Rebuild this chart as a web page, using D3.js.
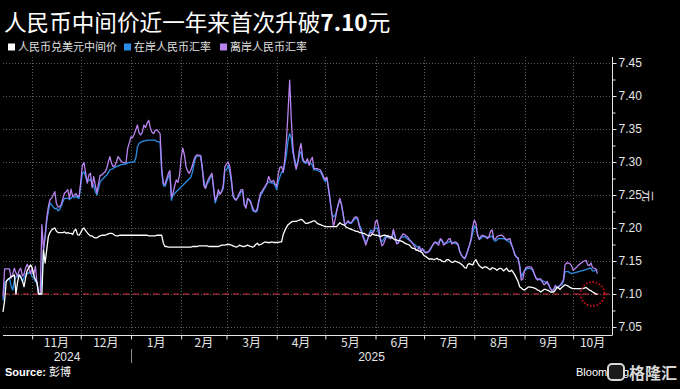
<!DOCTYPE html>
<html>
<head>
<meta charset="utf-8">
<script src="https://cdn.jsdelivr.net/npm/d3@7"></script>
<style>
  html, body { margin: 0; padding: 0; background: #000; }
  svg { display: block; }
</style>
</head>
<body>
<div id="chart"></div>
<script>
// one value per calendar day, starting on firstDay
var firstDay = '2024-10-14';

// 人民币兑美元中间价
var fixing = [
  // Oct 2024
  7.073, 7.090, 7.119, 7.122, 7.124, 7.126, 7.127, 7.129, 7.100, 7.118, 7.129, 7.125, 7.120, 7.111, 7.125, 7.136, 7.140, 7.144,
  // Nov
  7.140, 7.128, 7.122, 7.117, 7.100, 7.100, 7.100, 7.167, 7.147, 7.167, 7.187, 7.193, 7.197, 7.199, 7.200, 7.195, 7.193, 7.193, 7.193, 7.193,
  7.194, 7.192, 7.193, 7.192, 7.192, 7.190, 7.196, 7.198, 7.190, 7.189,
  // Dec
  7.193, 7.198, 7.200, 7.196, 7.193, 7.190, 7.188, 7.188, 7.186, 7.185, 7.185, 7.187, 7.188, 7.189, 7.189, 7.189, 7.190, 7.191, 7.192, 7.192,
  7.191, 7.189, 7.188, 7.188, 7.189, 7.189, 7.189, 7.189, 7.189, 7.189, 7.189,
  // Jan 2025
  7.189, 7.189, 7.189, 7.189, 7.189, 7.189, 7.189, 7.189, 7.189, 7.189, 7.189, 7.188, 7.188, 7.188, 7.188, 7.188, 7.189, 7.189, 7.189, 7.189,
  7.177, 7.172, 7.172, 7.171, 7.171, 7.171, 7.171, 7.171, 7.171, 7.171, 7.171,
  // Feb
  7.171, 7.171, 7.171, 7.171, 7.171, 7.171, 7.171, 7.172, 7.172, 7.172, 7.172, 7.173, 7.173, 7.173, 7.173, 7.173, 7.173, 7.172, 7.172, 7.172,
  7.172, 7.172, 7.172, 7.172, 7.173, 7.174, 7.174, 7.174,
  // Mar
  7.175, 7.175, 7.175, 7.174, 7.173, 7.172, 7.171, 7.172, 7.174, 7.173, 7.172, 7.172, 7.173, 7.174, 7.173, 7.172, 7.171, 7.172, 7.175, 7.177,
  7.174, 7.175, 7.176, 7.178, 7.179, 7.178, 7.178, 7.178, 7.179, 7.178, 7.178,
  // Apr
  7.178, 7.178, 7.179, 7.179, 7.190, 7.196, 7.201, 7.205, 7.207, 7.209, 7.210, 7.210, 7.210, 7.211, 7.212, 7.213, 7.212, 7.209, 7.207, 7.207,
  7.208, 7.209, 7.210, 7.211, 7.210, 7.207, 7.206, 7.205, 7.204, 7.203,
  // May
  7.202, 7.202, 7.202, 7.202, 7.202, 7.202, 7.202, 7.202, 7.205, 7.208, 7.206, 7.205, 7.204, 7.201, 7.200, 7.199, 7.198, 7.197, 7.196, 7.195,
  7.195, 7.193, 7.193, 7.192, 7.192, 7.190, 7.189, 7.188, 7.188, 7.191, 7.190,
  // Jun
  7.189, 7.189, 7.188, 7.187, 7.188, 7.189, 7.189, 7.188, 7.187, 7.187, 7.186, 7.184, 7.182, 7.182, 7.181, 7.181, 7.180, 7.179, 7.177, 7.176,
  7.175, 7.174, 7.171, 7.169, 7.169, 7.167, 7.166, 7.165, 7.164, 7.162,
  // Jul
  7.158, 7.157, 7.155, 7.153, 7.153, 7.153, 7.152, 7.153, 7.154, 7.152, 7.152, 7.150, 7.149, 7.149, 7.152, 7.152, 7.150, 7.148, 7.148, 7.150,
  7.149, 7.148, 7.147, 7.145, 7.143, 7.140, 7.139, 7.145, 7.146, 7.145, 7.144,
  // Aug
  7.149, 7.152, 7.147, 7.143, 7.141, 7.139, 7.141, 7.141, 7.140, 7.138, 7.137, 7.140, 7.139, 7.138, 7.136, 7.138, 7.139, 7.138, 7.135, 7.137,
  7.139, 7.135, 7.134, 7.136, 7.133, 7.129, 7.124, 7.119, 7.111, 7.109, 7.107,
  // Sep
  7.106, 7.108, 7.110, 7.111, 7.110, 7.110, 7.109, 7.108, 7.106, 7.105, 7.103, 7.105, 7.107, 7.107, 7.106, 7.105, 7.103, 7.103, 7.103, 7.106,
  7.110, 7.109, 7.107, 7.110, 7.112, 7.114, 7.113, 7.112, 7.110, 7.109,
  // Oct
  7.108, 7.108, 7.108, 7.108, 7.108, 7.108, 7.108, 7.109, 7.110, 7.108, 7.106, 7.105, 7.103, 7.102, 7.100, 7.0995
];

// 在岸人民币汇率 (null = market closed, line runs straight across)
var onshore = [
  // Oct 2024
  7.090, 7.117, 7.119, 7.122, 7.124, 7.112, 7.106, 7.120, 7.126, 7.126, 7.129, 7.127, 7.119, 7.125, 7.130, 7.131, 7.132, 7.133,
  // Nov
  7.126, 7.124, 7.119, 7.117, 7.100, 7.100, 7.120, 7.167, 7.187, 7.210, 7.225, 7.238, 7.235, 7.232, 7.229, 7.230, 7.226, 7.228, 7.233, 7.240,
  7.245, 7.245, 7.245, 7.243, 7.245, 7.248, 7.246, 7.248, 7.246, 7.245,
  // Dec
  7.265, 7.283, 7.285, 7.278, 7.270, 7.272, 7.274, 7.267, 7.264, 7.255, 7.250, 7.260, 7.270, 7.273, 7.275, 7.278, 7.280, 7.284, 7.288, 7.289,
  7.290, 7.292, 7.293, 7.294, 7.295, 7.296, 7.296, 7.297, 7.297, 7.299, 7.299,
  // Jan 2025
  7.300, 7.300, 7.300, 7.306, 7.323, 7.328, 7.330, 7.331, 7.332, 7.332, 7.333, 7.333, 7.333, 7.333, 7.333, 7.333, 7.331, 7.331, 7.329, 7.285,
  7.264, 7.263, 7.270, 7.277, 7.282, 7.242, 7.250, null, null, null, null,
  // Feb
  null, null, null, null, null, null, 7.277, 7.285, 7.298, 7.307, 7.309, 7.309, 7.309, 7.290, 7.273, 7.260, 7.267, 7.270, 7.277, 7.280,
  7.262, 7.238, 7.245, 7.252, 7.253, 7.255, 7.260, 7.288,
  // Mar
  7.288, 7.295, 7.285, 7.270, 7.248, 7.244, 7.244, 7.246, 7.250, 7.255, 7.255, 7.236, 7.232, 7.242, 7.243, 7.240, 7.227, 7.225, 7.224, 7.226,
  7.240, 7.250, 7.253, 7.258, 7.262, 7.267, 7.270, 7.269, 7.268, 7.268, 7.264,
  // Apr
  7.258, 7.270, 7.278, 7.285, 7.284, 7.297, 7.311, 7.333, 7.343, 7.336, 7.313, 7.306, 7.294, 7.300, 7.311, 7.316, 7.302, 7.299, 7.298, 7.300,
  7.298, 7.298, 7.295, 7.288, 7.288, 7.288, 7.286, 7.285, 7.280, 7.274,
  // May
  7.270, 7.275, 7.258, 7.240, 7.222, 7.217, 7.219, 7.226, 7.236, 7.243, 7.235, 7.220, 7.206, 7.207, 7.210, 7.207, 7.207, 7.210, 7.213, 7.215,
  7.213, 7.205, 7.200, 7.192, 7.184, 7.179, 7.182, 7.191, 7.197, 7.195, 7.196,
  // Jun
  7.200, 7.200, 7.192, 7.184, 7.179, 7.183, 7.187, 7.187, 7.185, 7.185, 7.186, 7.193, 7.187, 7.177, 7.178, 7.184, 7.187, 7.186, 7.187, 7.185,
  7.183, 7.181, 7.180, 7.177, 7.175, 7.173, 7.171, 7.172, 7.168, 7.167,
  // Jul
  7.165, 7.164, 7.163, 7.164, 7.168, 7.173, 7.176, 7.178, 7.177, 7.179, 7.182, 7.180, 7.178, 7.177, 7.177, 7.178, 7.180, 7.179, 7.178, 7.177,
  7.176, 7.174, 7.165, 7.159, 7.156, 7.153, 7.158, 7.167, 7.174, 7.181, 7.192,
  // Aug
  7.203, 7.200, 7.191, 7.183, 7.184, 7.187, 7.187, 7.186, 7.186, 7.186, 7.187, 7.188, 7.182, 7.180, 7.182, 7.184, 7.184, 7.184, 7.184, 7.183,
  7.181, 7.180, 7.178, 7.174, 7.168, 7.161, 7.156, 7.153, 7.144, 7.126, 7.131,
  // Sep
  7.135, 7.137, 7.139, 7.139, 7.138, 7.136, 7.130, 7.125, 7.123, 7.122, 7.121, 7.120, 7.119, 7.118, 7.116, 7.113, 7.108, 7.105, 7.107, 7.110,
  7.111, 7.112, 7.113, 7.114, 7.119, 7.134, 7.134, 7.134, 7.132, 7.131,
  // Oct
  null, null, null, null, null, null, null, null, 7.137, 7.138, 7.139, 7.139, 7.135, 7.135, 7.137, 7.136
];

// 离岸人民币汇率
var offshore = [
  // Oct 2024
  7.096, 7.138, 7.138, 7.138, 7.138, 7.124, 7.130, 7.139, 7.132, 7.127, 7.136, 7.139, 7.127, 7.130, 7.140, 7.145, 7.138, 7.131,
  // Nov
  7.139, 7.129, 7.142, 7.117, 7.100, 7.100, 7.205, 7.167, 7.187, 7.215, 7.232, 7.243, 7.245, 7.250, 7.255, 7.237, 7.232, 7.232, 7.236, 7.245,
  7.253, 7.255, 7.258, 7.245, 7.259, 7.248, 7.250, 7.252, 7.248, 7.248,
  // Dec
  7.270, 7.295, 7.299, 7.283, 7.268, 7.280, 7.283, 7.261, 7.278, 7.265, 7.253, 7.268, 7.280, 7.280, 7.283, 7.285, 7.290, 7.300, 7.308, 7.298,
  7.293, 7.294, 7.300, 7.308, 7.305, 7.301, 7.299, 7.299, 7.300, 7.321, 7.329,
  // Jan 2025
  7.338, 7.337, 7.342, 7.349, 7.356, 7.344, 7.341, 7.345, 7.356, 7.352, 7.359, 7.363, 7.351, 7.345, 7.343, 7.348, 7.349, 7.346, 7.343, 7.290,
  7.267, 7.266, 7.274, 7.282, 7.287, 7.247, 7.253, 7.264, 7.273, 7.269, 7.280,
  // Feb
  7.306, 7.321, 7.311, 7.293, 7.286, 7.283, 7.288, 7.295, 7.304, 7.309, 7.311, 7.310, 7.310, 7.293, 7.265, 7.260, 7.269, 7.275, 7.279, 7.283,
  7.260, 7.242, 7.247, 7.258, 7.251, 7.255, 7.265, 7.293,
  // Mar
  7.297, 7.300, 7.293, 7.275, 7.250, 7.244, 7.242, 7.247, 7.253, 7.258, 7.258, 7.235, 7.230, 7.245, 7.243, 7.238, 7.232, 7.226, 7.225, 7.230,
  7.242, 7.253, 7.256, 7.260, 7.264, 7.268, 7.278, 7.272, 7.270, 7.272, 7.267,
  // Apr
  7.263, 7.283, 7.292, 7.293, 7.285, 7.304, 7.333, 7.376, 7.424, 7.364, 7.323, 7.300, 7.289, 7.298, 7.318, 7.328, 7.306, 7.300, 7.300, 7.305,
  7.295, 7.303, 7.307, 7.290, 7.290, 7.290, 7.289, 7.288, 7.283, 7.277,
  // May
  7.273, 7.277, 7.260, 7.242, 7.222, 7.202, 7.212, 7.225, 7.236, 7.245, 7.235, 7.222, 7.205, 7.207, 7.211, 7.208, 7.208, 7.212, 7.216, 7.217,
  7.215, 7.202, 7.196, 7.188, 7.182, 7.174, 7.182, 7.189, 7.194, 7.192, 7.195,
  // Jun
  7.210, 7.212, 7.200, 7.182, 7.173, 7.176, 7.183, 7.188, 7.189, 7.184, 7.185, 7.198, 7.189, 7.176, 7.177, 7.183, 7.187, 7.191, 7.190, 7.188,
  7.186, 7.182, 7.179, 7.176, 7.173, 7.166, 7.167, 7.172, 7.164, 7.169,
  // Jul
  7.164, 7.162, 7.163, 7.165, 7.169, 7.173, 7.177, 7.179, 7.176, 7.174, 7.184, 7.182, 7.174, 7.176, 7.179, 7.183, 7.184, 7.176, 7.177, 7.179,
  7.178, 7.175, 7.164, 7.159, 7.156, 7.154, 7.159, 7.166, 7.174, 7.184, 7.202,
  // Aug
  7.212, 7.207, 7.189, 7.183, 7.187, 7.189, 7.188, 7.187, 7.184, 7.186, 7.195, 7.197, 7.184, 7.183, 7.187, 7.188, 7.189, 7.189, 7.187, 7.184,
  7.182, 7.183, 7.184, 7.175, 7.168, 7.159, 7.156, 7.155, 7.141, 7.121, 7.123,
  // Sep
  7.136, 7.140, 7.141, 7.141, 7.141, 7.138, 7.131, 7.124, 7.121, 7.123, 7.123, 7.118, 7.114, 7.116, 7.119, 7.114, 7.108, 7.105, 7.107, 7.113,
  7.110, 7.110, 7.113, 7.117, 7.121, 7.144, 7.147, 7.147, 7.146, 7.143,
  // Oct
  7.136, 7.138, 7.140, 7.143, 7.145, 7.147, 7.149, 7.150, 7.151, 7.144, 7.143, 7.147, 7.140, 7.139, 7.138, 7.131
];

var yTicks = [7.05, 7.10, 7.15, 7.20, 7.25, 7.30, 7.35, 7.40, 7.45];
var yMinorTicks = [7.075, 7.125, 7.175, 7.225, 7.275, 7.325, 7.375, 7.425];
var monthStarts = ['2024-11-01', '2024-12-01', '2025-01-01', '2025-02-01', '2025-03-01', '2025-04-01',
                   '2025-05-01', '2025-06-01', '2025-07-01', '2025-08-01', '2025-09-01', '2025-10-01'];
var monthLabels = ['11月', '12月', '1月', '2月', '3月', '4月', '5月', '6月', '7月', '8月', '9月', '10月'];
var yearLabels = ['2024', '2025'];
var seriesNames = ['人民币兑美元中间价', '在岸人民币汇率', '离岸人民币汇率'];
var seriesColors = ['#ffffff', '#2a8de6', '#b983f0'];

var titleText = '人民币中间价近一年来首次升破';
var titleNumber = '7.10';
var breakLevel = 7.10;
var breakDay = '2025-10-13';

function drawChart() {
    var w = 680;
    var h = 389;
    var plotLeft = 3, plotRight = 612, plotTop = 57, plotBottom = 335;
    var cjk = '"Noto Sans CJK SC", "Noto Sans", sans-serif';
    var latin = '"Liberation Sans", Arial, sans-serif';
    var parse = d3.timeParse('%Y-%m-%d');

    var start = parse(firstDay);
    var days = fixing.map(function(d, i) { return d3.timeDay.offset(start, i); });
    var months = monthStarts.map(parse);

    var x = d3.scaleTime()
        .domain([parse('2024-10-14'), parse('2025-10-25')])
        .range([plotLeft, plotRight]);
    var y = d3.scaleLinear()
        .domain([7.05, 7.45])
        .range([327, 63]);

    var svg = d3.select('#chart')
        .append('svg')
        .attr('width', w)
        .attr('height', h)
        .style('background', '#000');

    // title
    var title = svg.append('text')
        .attr('x', 4)
        .attr('y', 31)
        .attr('fill', '#fff')
        .attr('font-family', cjk)
        .attr('font-size', '22.6px');
    title.append('tspan').text(titleText);
    title.append('tspan').attr('font-weight', 'bold').text(titleNumber);
    title.append('tspan').text('元');

    // legend
    var legendX = [8, 124, 220];
    var legend = svg.selectAll('g.legend')
        .data(seriesNames)
        .enter()
        .append('g')
        .attr('class', 'legend')
        .attr('transform', function(d, i) { return 'translate(' + legendX[i] + ',47)'; });
    legend.append('rect')
        .attr('x', 0)
        .attr('y', -3.5)
        .attr('width', 7)
        .attr('height', 7)
        .attr('fill', function(d, i) { return seriesColors[i]; });
    legend.append('text')
        .attr('x', 10)
        .attr('y', 4)
        .attr('fill', '#e0e0e0')
        .attr('font-family', cjk)
        .attr('font-size', '11px')
        .text(function(d) { return d; });

    // grid
    var grid = svg.append('g')
        .attr('stroke', '#5a5a5a')
        .attr('stroke-width', 1)
        .attr('stroke-dasharray', '1,2');
    grid.selectAll('line.h')
        .data(yTicks)
        .enter()
        .append('line')
        .attr('x1', plotLeft)
        .attr('x2', plotRight)
        .attr('y1', function(d) { return Math.round(y(d)) + 0.5; })
        .attr('y2', function(d) { return Math.round(y(d)) + 0.5; });
    grid.selectAll('line.v')
        .data(months)
        .enter()
        .append('line')
        .attr('x1', function(d) { return Math.round(x(d)) + 0.5; })
        .attr('x2', function(d) { return Math.round(x(d)) + 0.5; })
        .attr('y1', plotTop)
        .attr('y2', plotBottom);

    // 7.10 reference line
    svg.append('line')
        .attr('x1', plotLeft)
        .attr('x2', plotRight)
        .attr('y1', y(breakLevel))
        .attr('y2', y(breakLevel))
        .attr('stroke', '#e8303c')
        .attr('stroke-width', 1.2)
        .attr('stroke-dasharray', '6,4');

    // series lines
    var line = d3.line()
        .x(function(d) { return x(d.date); })
        .y(function(d) { return y(d.value); });
    var seriesValues = [onshore, offshore, fixing];
    var seriesColor = [seriesColors[1], seriesColors[2], seriesColors[0]];
    seriesValues.forEach(function(values, k) {
        var pts = values
            .map(function(v, i) { return { date: days[i], value: v }; })
            .filter(function(d) { return d.value !== null; });
        svg.append('path')
            .datum(pts)
            .attr('fill', 'none')
            .attr('stroke', seriesColor[k])
            .attr('stroke-width', 1.3)
            .attr('stroke-linejoin', 'round')
            .attr('d', line);
    });

    // red dotted circle around the latest fixing
    svg.append('circle')
        .attr('cx', x(parse(breakDay)))
        .attr('cy', y(breakLevel))
        .attr('r', 12)
        .attr('fill', 'none')
        .attr('stroke', '#d0101c')
        .attr('stroke-width', 1.8)
        .attr('stroke-dasharray', '1.5,1.8');

    // right axis
    svg.append('line')
        .attr('x1', plotRight + 0.5).attr('x2', plotRight + 0.5)
        .attr('y1', plotTop).attr('y2', plotBottom)
        .attr('stroke', '#e6e6e6');
    var yAxis = svg.append('g')
        .attr('transform', 'translate(' + (plotRight + 0.5) + ',0)')
        .call(d3.axisRight(y).tickValues(yTicks).tickSize(4).tickPadding(2).tickFormat(d3.format('.2f')));
    yAxis.select('.domain').remove();
    yAxis.selectAll('line').attr('stroke', '#e6e6e6');
    yAxis.selectAll('text')
        .attr('fill', '#e6e6e6')
        .attr('font-family', latin)
        .attr('font-size', '12px');
    var yMinor = svg.append('g')
        .attr('transform', 'translate(' + (plotRight + 0.5) + ',0)')
        .call(d3.axisRight(y).tickValues(yMinorTicks).tickSize(3).tickFormat(''));
    yMinor.select('.domain').remove();
    yMinor.selectAll('line').attr('stroke', '#e6e6e6');

    svg.append('text')
        .attr('transform', 'translate(643,196) rotate(90)')
        .attr('text-anchor', 'middle')
        .attr('fill', '#e6e6e6')
        .attr('font-family', cjk)
        .attr('font-size', '12px')
        .text('元');

    // bottom axis
    svg.append('line')
        .attr('x1', plotLeft).attr('x2', plotRight + 0.5)
        .attr('y1', plotBottom + 0.5).attr('y2', plotBottom + 0.5)
        .attr('stroke', '#e6e6e6');
    var xAxis = svg.append('g')
        .attr('transform', 'translate(0,' + (plotBottom + 0.5) + ')')
        .call(d3.axisBottom(x).tickValues(months).tickSize(4).tickFormat(''));
    xAxis.select('.domain').remove();
    xAxis.selectAll('line').attr('stroke', '#e6e6e6');

    var end = x.domain()[1];
    svg.selectAll('text.month')
        .data(monthLabels)
        .enter()
        .append('text')
        .attr('class', 'month')
        .attr('x', function(d, i) {
            var next = i + 1 < months.length ? months[i + 1] : end;
            return (x(months[i]) + x(next)) / 2;
        })
        .attr('y', 347)
        .attr('text-anchor', 'middle')
        .attr('fill', '#e6e6e6')
        .attr('font-family', cjk)
        .attr('font-size', '12px')
        .text(function(d) { return d; });

    var newYear = months[2];
    var yearSpans = [[x.domain()[0], newYear], [newYear, end]];
    svg.selectAll('text.year')
        .data(yearLabels)
        .enter()
        .append('text')
        .attr('class', 'year')
        .attr('x', function(d, i) { return (x(yearSpans[i][0]) + x(yearSpans[i][1])) / 2; })
        .attr('y', 361)
        .attr('text-anchor', 'middle')
        .attr('fill', '#e6e6e6')
        .attr('font-family', latin)
        .attr('font-size', '12px')
        .text(function(d) { return d; });
    svg.append('line')
        .attr('x1', Math.round(x(newYear)) + 0.5).attr('x2', Math.round(x(newYear)) + 0.5)
        .attr('y1', 349).attr('y2', 363)
        .attr('stroke', '#8a8a8a');

    // source
    var src = svg.append('text')
        .attr('x', 5)
        .attr('y', 376)
        .attr('fill', '#fff')
        .attr('font-family', cjk)
        .attr('font-size', '11px');
    src.append('tspan').attr('font-weight', 'bold').attr('font-family', latin).text('Source: ');
    src.append('tspan').text('彭博');

    // watermark
    svg.append('text')
        .attr('x', 576)
        .attr('y', 376)
        .attr('fill', '#fff')
        .attr('font-family', latin)
        .attr('font-size', '11px')
        .text('Bloomberg');
    svg.append('rect')
        .attr('x', 608).attr('y', 364)
        .attr('width', 16).attr('height', 16)
        .attr('rx', 4)
        .attr('fill', '#1a1a1a')
        .attr('stroke', '#d8d8d8')
        .attr('stroke-width', 2);
    svg.append('text')
        .attr('x', 629)
        .attr('y', 379)
        .attr('fill', '#d8d8d8')
        .attr('font-family', cjk)
        .attr('font-weight', 'bold')
        .attr('font-size', '16px')
        .text('格隆汇');
}

drawChart();
</script>
</body>
</html>
